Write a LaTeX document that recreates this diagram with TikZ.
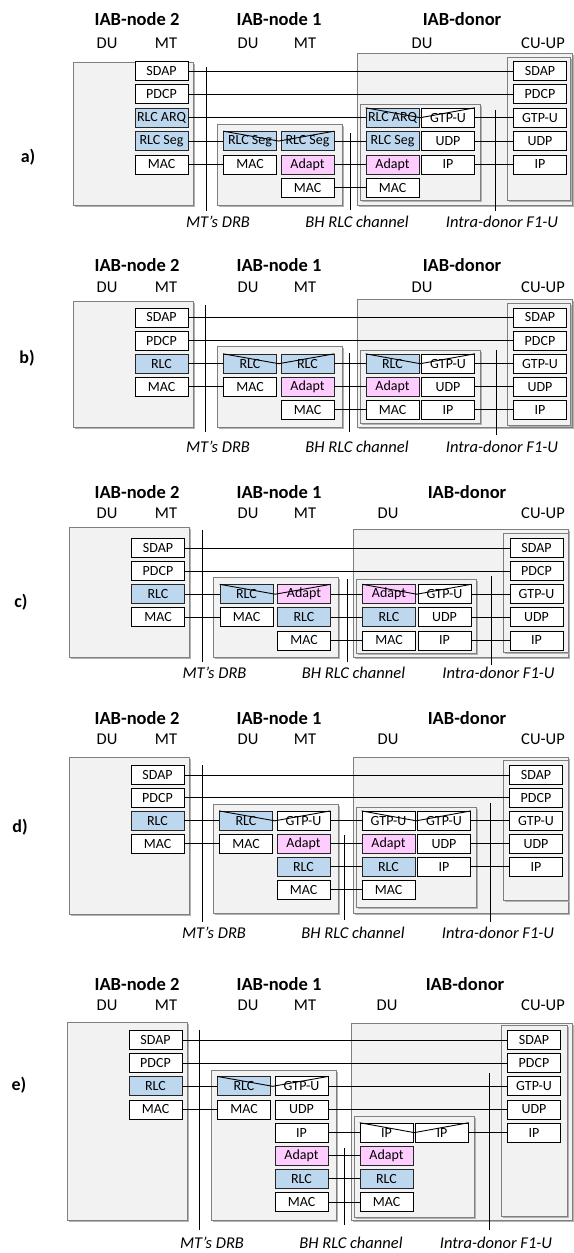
\documentclass[tikz,border=0pt]{standalone}
\usepackage{fontspec}
\setmainfont{Carlito}
\usetikzlibrary{shadows,calc}
\definecolor{rlcblue}{HTML}{BDD7EE}
\definecolor{adaptpink}{HTML}{FFCCFF}
\definecolor{holderfill}{HTML}{F2F2F2}
\definecolor{holderline}{HTML}{7F7F7F}
\tikzset{
  layer/.style={draw=black, line width=0.8pt, fill=white, minimum width=53pt,
    minimum height=19pt, inner sep=0pt, font=\fontsize{14}{15}\selectfont},
  rlcbox/.style={layer, fill=rlcblue, draw=black!85},
  adaptbox/.style={layer, fill=adaptpink, draw=black!85},
  holder/.style={draw=holderline, line width=0.7pt, fill=holderfill,
    general shadow={fill=black!30, shadow xshift=1.8pt, shadow yshift=-1.8pt}},
  link/.style={line width=0.9pt, black},
  iface/.style={line width=0.9pt, black},
  title/.style={font=\bfseries\fontsize{18.5}{20}\selectfont},
  part/.style={font=\fontsize{16.5}{18}\selectfont},
  ifacelabel/.style={font=\itshape\fontsize{16.5}{18}\selectfont},
  tag/.style={font=\bfseries\fontsize{18}{20}\selectfont},
}
% slanted "relay" marks over two neighbouring layer boxes
\newcommand{\relaycross}[2]{\draw[link] (#1.north west) -- ($(#1.east)!0.5!(#2.west)$) -- (#2.north east);}
% the column headings of one panel
\newcommand{\headings}[5]{% prefix, title y, part y, donor-title x, donor-DU x
  \node[title] (#1T2) at (137,#2) {IAB-node 2};
  \node[part] (#1DU2) at (107,#3) {DU};
  \node[part] (#1MT2) at (166,#3) {MT};
  \node[title] (#1T1) at (279,#2) {IAB-node 1};
  \node[part] (#1DU1) at (248,#3) {DU};
  \node[part] (#1MT1) at (305,#3) {MT};
  \node[title] (#1TD) at (#4,#2) {IAB-donor};
  \node[part] (#1DUD) at (#5,#3) {DU};
  \node[part] (#1CU) at (543,#3) {CU-UP};
}
% the three interface labels under one panel
\newcommand{\ifacelabels}[2]{% prefix, y
  \node[ifacelabel] (#1LDrb) at (218,#2) {MT’s DRB};
  \node[ifacelabel] (#1LBh) at (357,#2) {BH RLC channel};
  \node[ifacelabel] (#1LF1) at (502,#2) {Intra-donor F1-U};
}
\begin{document}
\begin{tikzpicture}[x=1pt,y=-1pt]
\useasboundingbox (0,0) rectangle (573,1253);
\fill[white] (0,0) rectangle (573,1253);

% ================= a) =================
\begin{scope}[shift={(0,71)}]
  \headings{a}{-52}{-28}{462}{422}
  \node[tag] (aTag) at (28,86) {a)};
  \draw[holder] (73,-9) rectangle (193,134);
  \draw[holder] (217,53) rectangle (342,134);
  \draw[holder] (357,-18) rectangle (572,134);
  \draw[holder] (360,33) rectangle (480,129);
  \draw[holder] (507,-14) rectangle (570,129);
  \draw[iface] (206,-4) coordinate (aDrbTop) -- (206,140) coordinate (aDrbBot);
  \draw[iface] (350,62) coordinate (aBhTop) -- (350,139) coordinate (aBhBot);
  \draw[iface] (495,39) coordinate (aF1Top) -- (495,140) coordinate (aF1Bot);
  \ifacelabels{a}{151}
  % IAB-node 2 MT
  \node[layer] (aN2sdap) at (161.5,0) {SDAP};
  \node[layer] (aN2pdcp) at (161.5,23.35) {PDCP};
  \node[rlcbox] (aN2arq) at (161.5,46.7) {RLC ARQ};
  \node[rlcbox] (aN2seg) at (161.5,70.05) {RLC Seg};
  \node[layer] (aN2mac) at (161.5,93.4) {MAC};
  % IAB-node 1
  \node[rlcbox] (aN1dseg) at (250,70.05) {RLC Seg};
  \node[layer] (aN1dmac) at (250,93.4) {MAC};
  \node[rlcbox] (aN1mseg) at (307.5,70.05) {RLC Seg};
  \node[adaptbox] (aN1madp) at (307.5,93.4) {Adapt};
  \node[layer] (aN1mmac) at (307.5,116.75) {MAC};
  % IAB-donor DU
  \node[rlcbox] (aDarq) at (392.5,46.7) {RLC ARQ};
  \node[rlcbox] (aDseg) at (392.5,70.05) {RLC Seg};
  \node[adaptbox] (aDadp) at (392.5,93.4) {Adapt};
  \node[layer] (aDmac) at (392.5,116.75) {MAC};
  \node[layer] (aDgtp) at (448,46.7) {GTP-U};
  \node[layer] (aDudp) at (448,70.05) {UDP};
  \node[layer] (aDip) at (448,93.4) {IP};
  % IAB-donor CU-UP
  \node[layer] (aCsdap) at (540,0) {SDAP};
  \node[layer] (aCpdcp) at (540,23.35) {PDCP};
  \node[layer] (aCgtp) at (540,46.7) {GTP-U};
  \node[layer] (aCudp) at (540,70.05) {UDP};
  \node[layer] (aCip) at (540,93.4) {IP};
  % peer links
  \draw[link] (aN2sdap) -- (aCsdap);
  \draw[link] (aN2pdcp) -- (aCpdcp);
  \draw[link] (aN2arq) -- (aDarq);
  \draw[link] (aN2seg) -- (aN1dseg);
  \draw[link] (aN2mac) -- (aN1dmac);
  \draw[link] (aN1mseg) -- (aDseg);
  \draw[link] (aN1madp) -- (aDadp);
  \draw[link] (aN1mmac) -- (aDmac);
  \draw[link] (aDgtp) -- (aCgtp);
  \draw[link] (aDudp) -- (aCudp);
  \draw[link] (aDip) -- (aCip);
  \relaycross{aN1dseg}{aN1mseg}
  \relaycross{aDarq}{aDgtp}
\end{scope}

% ================= b) =================
\begin{scope}[shift={(0,317.5)}]
  \headings{b}{-52.5}{-30.5}{462}{422}
  \node[tag] (bTag) at (27,40.5) {b)};
  \draw[holder] (73,-16.5) rectangle (193,109.5);
  \draw[holder] (217,28.5) rectangle (342,109.5);
  \draw[holder] (357,-18.5) rectangle (572,109.5);
  \draw[holder] (360,32.5) rectangle (480,105.5);
  \draw[holder] (507,-14.5) rectangle (570,107.5);
  \draw[iface] (205,-12.5) coordinate (bDrbTop) -- (205,114.5) coordinate (bDrbBot);
  \draw[iface] (349,35.5) coordinate (bBhTop) -- (349,114.5) coordinate (bBhBot);
  \draw[iface] (496,32.5) coordinate (bF1Top) -- (496,117.5) coordinate (bF1Bot);
  \ifacelabels{b}{129.5}
  \node[layer] (bN2sdap) at (161.5,0) {SDAP};
  \node[layer] (bN2pdcp) at (161.5,23.1) {PDCP};
  \node[rlcbox] (bN2rlc) at (161.5,46.2) {RLC};
  \node[layer] (bN2mac) at (161.5,69.3) {MAC};
  \node[rlcbox] (bN1drlc) at (250,46.2) {RLC};
  \node[layer] (bN1dmac) at (250,69.3) {MAC};
  \node[rlcbox] (bN1mrlc) at (307.5,46.2) {RLC};
  \node[adaptbox] (bN1madp) at (307.5,69.3) {Adapt};
  \node[layer] (bN1mmac) at (307.5,92.4) {MAC};
  \node[rlcbox] (bDrlc) at (392.5,46.2) {RLC};
  \node[adaptbox] (bDadp) at (392.5,69.3) {Adapt};
  \node[layer] (bDmac) at (392.5,92.4) {MAC};
  \node[layer] (bDgtp) at (448,46.2) {GTP-U};
  \node[layer] (bDudp) at (448,69.3) {UDP};
  \node[layer] (bDip) at (448,92.4) {IP};
  \node[layer] (bCsdap) at (540,0) {SDAP};
  \node[layer] (bCpdcp) at (540,23.1) {PDCP};
  \node[layer] (bCgtp) at (540,46.2) {GTP-U};
  \node[layer] (bCudp) at (540,69.3) {UDP};
  \node[layer] (bCip) at (540,92.4) {IP};
  \draw[link] (bN2sdap) -- (bCsdap);
  \draw[link] (bN2pdcp) -- (bCpdcp);
  \draw[link] (bN2rlc) -- (bN1drlc);
  \draw[link] (bN2mac) -- (bN1dmac);
  \draw[link] (bN1mrlc) -- (bDrlc);
  \draw[link] (bN1madp) -- (bDadp);
  \draw[link] (bN1mmac) -- (bDmac);
  \draw[link] (bDgtp) -- (bCgtp);
  \draw[link] (bDudp) -- (bCudp);
  \draw[link] (bDip) -- (bCip);
  \relaycross{bN1drlc}{bN1mrlc}
  \relaycross{bDrlc}{bDgtp}
\end{scope}

% ================= c) =================
\begin{scope}[shift={(0,548)}]
  \headings{c}{-56}{-35}{467}{388}
  \node[tag] (cTag) at (21,54) {c)};
  \begin{scope}[shift={(-3.5,0)}]
  \draw[holder] (73,-21) rectangle (193,109);
  \draw[holder] (217,29) rectangle (342,109);
  \draw[holder] (357,-19) rectangle (572,109);
  \draw[holder] (360,31) rectangle (480,105);
  \draw[holder] (507,-15) rectangle (572,104);
  \draw[iface] (205.5,-18) coordinate (cDrbTop) -- (205.5,114) coordinate (cDrbBot);
  \draw[iface] (350.5,31) coordinate (cBhTop) -- (350.5,114) coordinate (cBhBot);
  \draw[iface] (494.5,28) coordinate (cF1Top) -- (494.5,117) coordinate (cF1Bot);
  \ifacelabels{c}{125}
  \node[layer] (cN2sdap) at (161.5,0) {SDAP};
  \node[layer] (cN2pdcp) at (161.5,23.1) {PDCP};
  \node[rlcbox] (cN2rlc) at (161.5,46.2) {RLC};
  \node[layer] (cN2mac) at (161.5,69.3) {MAC};
  \node[rlcbox] (cN1drlc) at (250,46.2) {RLC};
  \node[layer] (cN1dmac) at (250,69.3) {MAC};
  \node[adaptbox] (cN1madp) at (307.5,46.2) {Adapt};
  \node[rlcbox] (cN1mrlc) at (307.5,69.3) {RLC};
  \node[layer] (cN1mmac) at (307.5,92.4) {MAC};
  \node[adaptbox] (cDadp) at (392.5,46.2) {Adapt};
  \node[rlcbox] (cDrlc) at (392.5,69.3) {RLC};
  \node[layer] (cDmac) at (392.5,92.4) {MAC};
  \node[layer] (cDgtp) at (448,46.2) {GTP-U};
  \node[layer] (cDudp) at (448,69.3) {UDP};
  \node[layer] (cDip) at (448,92.4) {IP};
  \node[layer] (cCsdap) at (540,0) {SDAP};
  \node[layer] (cCpdcp) at (540,23.1) {PDCP};
  \node[layer] (cCgtp) at (540,46.2) {GTP-U};
  \node[layer] (cCudp) at (540,69.3) {UDP};
  \node[layer] (cCip) at (540,92.4) {IP};
  \draw[link] (cN2sdap) -- (cCsdap);
  \draw[link] (cN2pdcp) -- (cCpdcp);
  \draw[link] (cN2rlc) -- (cN1drlc);
  \draw[link] (cN2mac) -- (cN1dmac);
  \draw[link] (cN1madp) -- (cDadp);
  \draw[link] (cN1mrlc) -- (cDrlc);
  \draw[link] (cN1mmac) -- (cDmac);
  \draw[link] (cDgtp) -- (cCgtp);
  \draw[link] (cDudp) -- (cCudp);
  \draw[link] (cDip) -- (cCip);
  \relaycross{cN1drlc}{cN1madp}
  \relaycross{cDadp}{cDgtp}
  \end{scope}
\end{scope}

% ================= d) =================
\begin{scope}[shift={(0,775)}]
  \headings{d}{-57}{-36}{467}{388}
  \node[tag] (dTag) at (20,52) {d)};
  \begin{scope}[shift={(-4,0)}]
  \draw[holder] (73,-18) rectangle (193,139);
  \draw[holder] (217,29) rectangle (342,138);
  \draw[holder] (357,-18) rectangle (572,138);
  \draw[holder] (360,32) rectangle (480,132);
  \draw[holder] (507,-15) rectangle (572,125);
  \draw[iface] (206,-10) coordinate (dDrbTop) -- (206,147) coordinate (dDrbBot);
  \draw[iface] (348,60) coordinate (dBhTop) -- (348,145) coordinate (dBhBot);
  \draw[iface] (494,28) coordinate (dF1Top) -- (494,147) coordinate (dF1Bot);
  \ifacelabels{d}{158}
  \node[layer] (dN2sdap) at (161.5,0) {SDAP};
  \node[layer] (dN2pdcp) at (161.5,22.9) {PDCP};
  \node[rlcbox] (dN2rlc) at (161.5,45.8) {RLC};
  \node[layer] (dN2mac) at (161.5,68.7) {MAC};
  \node[rlcbox] (dN1drlc) at (250,45.8) {RLC};
  \node[layer] (dN1dmac) at (250,68.7) {MAC};
  \node[layer] (dN1mgtp) at (307.5,45.8) {GTP-U};
  \node[adaptbox] (dN1madp) at (307.5,68.7) {Adapt};
  \node[rlcbox] (dN1mrlc) at (307.5,91.6) {RLC};
  \node[layer] (dN1mmac) at (307.5,114.5) {MAC};
  \node[layer] (dDgtpl) at (392.5,45.8) {GTP-U};
  \node[adaptbox] (dDadp) at (392.5,68.7) {Adapt};
  \node[rlcbox] (dDrlc) at (392.5,91.6) {RLC};
  \node[layer] (dDmac) at (392.5,114.5) {MAC};
  \node[layer] (dDgtpr) at (448,45.8) {GTP-U};
  \node[layer] (dDudp) at (448,68.7) {UDP};
  \node[layer] (dDip) at (448,91.6) {IP};
  \node[layer] (dCsdap) at (540,0) {SDAP};
  \node[layer] (dCpdcp) at (540,22.9) {PDCP};
  \node[layer] (dCgtp) at (540,45.8) {GTP-U};
  \node[layer] (dCudp) at (540,68.7) {UDP};
  \node[layer] (dCip) at (540,91.6) {IP};
  \draw[link] (dN2sdap) -- (dCsdap);
  \draw[link] (dN2pdcp) -- (dCpdcp);
  \draw[link] (dN2rlc) -- (dN1drlc);
  \draw[link] (dN2mac) -- (dN1dmac);
  \draw[link] (dN1mgtp) -- (dDgtpl);
  \draw[link] (dN1madp) -- (dDadp);
  \draw[link] (dN1mrlc) -- (dDrlc);
  \draw[link] (dN1mmac) -- (dDmac);
  \draw[link] (dDgtpr) -- (dCgtp);
  \draw[link] (dDudp) -- (dCudp);
  \draw[link] (dDip) -- (dCip);
  \relaycross{dN1drlc}{dN1mgtp}
  \relaycross{dDgtpl}{dDgtpr}
  \end{scope}
\end{scope}

% ================= e) =================
\begin{scope}[shift={(0,1040)}]
  \headings{e}{-56}{-35}{465}{387}
  \node[tag] (eTag) at (19,45) {e)};
  \begin{scope}[shift={(-6,0)}]
  \draw[holder] (73,-18) rectangle (193,180);
  \draw[holder] (217,30) rectangle (342,180);
  \draw[holder] (357,-17) rectangle (578,180);
  \draw[holder] (360,76) rectangle (480,177);
  \draw[holder] (507,-15) rectangle (573,176);
  \draw[iface] (205,-10) coordinate (eDrbTop) -- (205,190) coordinate (eDrbBot);
  \draw[iface] (350,108) coordinate (eBhTop) -- (350,185) coordinate (eBhBot);
  \draw[iface] (495,33) coordinate (eF1Top) -- (495,190) coordinate (eF1Bot);
  \ifacelabels{e}{203}
  \node[layer] (eN2sdap) at (161.5,0) {SDAP};
  \node[layer] (eN2pdcp) at (161.5,23.15) {PDCP};
  \node[rlcbox] (eN2rlc) at (161.5,46.3) {RLC};
  \node[layer] (eN2mac) at (161.5,69.45) {MAC};
  \node[rlcbox] (eN1drlc) at (250,46.3) {RLC};
  \node[layer] (eN1dmac) at (250,69.45) {MAC};
  \node[layer] (eN1mgtp) at (307.5,46.3) {GTP-U};
  \node[layer] (eN1mudp) at (307.5,69.45) {UDP};
  \node[layer] (eN1mip) at (307.5,92.6) {IP};
  \node[adaptbox] (eN1madp) at (307.5,115.75) {Adapt};
  \node[rlcbox] (eN1mrlc) at (307.5,138.9) {RLC};
  \node[layer] (eN1mmac) at (307.5,162.05) {MAC};
  \node[layer] (eDipl) at (392.5,92.6) {IP};
  \node[adaptbox] (eDadp) at (392.5,115.75) {Adapt};
  \node[rlcbox] (eDrlc) at (392.5,138.9) {RLC};
  \node[layer] (eDmac) at (392.5,162.05) {MAC};
  \node[layer] (eDipr) at (448,92.6) {IP};
  \node[layer] (eCsdap) at (540,0) {SDAP};
  \node[layer] (eCpdcp) at (540,23.15) {PDCP};
  \node[layer] (eCgtp) at (540,46.3) {GTP-U};
  \node[layer] (eCudp) at (540,69.45) {UDP};
  \node[layer] (eCip) at (540,92.6) {IP};
  \draw[link] (eN2sdap) -- (eCsdap);
  \draw[link] (eN2pdcp) -- (eCpdcp);
  \draw[link] (eN2rlc) -- (eN1drlc);
  \draw[link] (eN2mac) -- (eN1dmac);
  \draw[link] (eN1mgtp) -- (eCgtp);
  \draw[link] (eN1mudp) -- (eCudp);
  \draw[link] (eN1mip) -- (eDipl);
  \draw[link] (eDipr) -- (eCip);
  \draw[link] (eN1madp) -- (eDadp);
  \draw[link] (eN1mrlc) -- (eDrlc);
  \draw[link] (eN1mmac) -- (eDmac);
  \relaycross{eN1drlc}{eN1mgtp}
  \relaycross{eDipl}{eDipr}
  \end{scope}
\end{scope}

\end{tikzpicture}
\end{document}
